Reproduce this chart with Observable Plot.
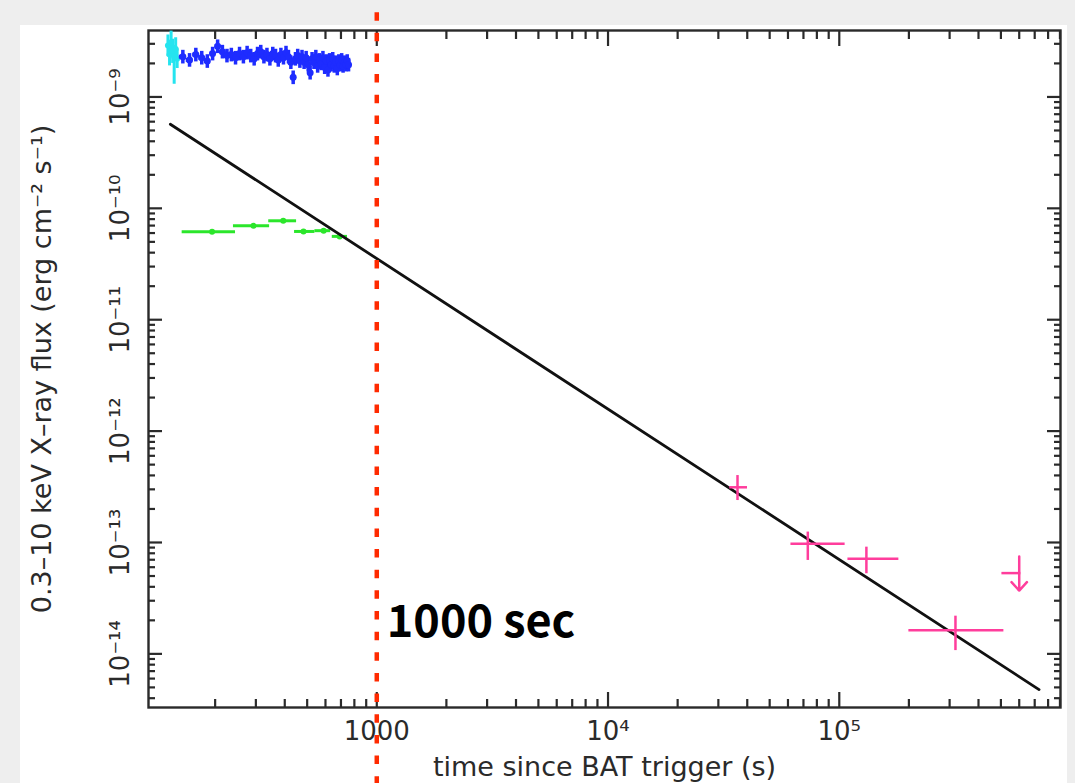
<!DOCTYPE html>
<html><head><meta charset="utf-8">
<script src="https://cdn.jsdelivr.net/npm/d3@7"></script>
<script src="https://cdn.jsdelivr.net/npm/@observablehq/plot@0.6"></script>
<style>
html,body{margin:0;padding:0;background:#eeeeee;width:1075px;height:783px;overflow:hidden;}
#panel{position:absolute;left:20px;top:25px;width:1047px;height:758px;background:#ffffff;}
#chart{position:absolute;left:0;top:0;}
</style></head><body><div id="panel"></div><div id="chart"></div>
<script>
// ---- axes / ticks ----
const xDomain = [103, 9.05e5];
const yDomain = [3.3e-15, 3.95e-9];
const xMajor = [1000, 1e4, 1e5];
const xMajorLabels = ["1000", "10⁴", "10⁵"];
const yMajor = [1e-14, 1e-13, 1e-12, 1e-11, 1e-10, 1e-9];
const yMajorLabels = ["10⁻¹⁴", "10⁻¹³", "10⁻¹²", "10⁻¹¹", "10⁻¹⁰", "10⁻⁹"];
const xTitle = "time since BAT trigger (s)";
const yTitle = "0.3–10 keV X–ray flux (erg cm⁻² s⁻¹)";
const markerLabel = "1000 sec";
const markerTime = 1000;

// ---- BAT (cyan) ----
const batT = [125, 127, 129, 131, 133, 135, 137];
const batF = [2.9e-9, 2.4e-9, 3.1e-9, 2.6e-9, 2.3e-9, 2.7e-9, 2.2e-9];
const batLo = [2.3e-9, 1.9e-9, 2.4e-9, 2.0e-9, 1.3e-9, 2.1e-9, 1.8e-9];
const batHi = [3.6e-9, 3.0e-9, 3.9e-9, 3.3e-9, 2.9e-9, 3.4e-9, 2.7e-9];

// ---- XRT WT (blue) ----
const wtT = [145,155,165,175,185,195,205,215,225,235,245,255,265,275,285,295,305,315,325,335,345,355,365,375,385,395,405,415,425,435,445,455,465,475,485,495,505,515,525,535,545,555,565,575,585,595,605,615,625,635,645,655,665,675,685,695,705,715,725,735,745,755];
const wtF = [2.30,2.15,2.40,2.25,2.10,2.45,2.85,2.55,2.35,2.40,2.25,2.45,2.30,2.50,2.35,2.20,2.45,2.55,2.30,2.40,2.20,2.45,2.35,2.15,2.40,2.25,2.50,2.30,2.05,1.50,2.20,2.35,2.10,2.30,2.05,2.25,1.95,1.65,2.20,2.05,2.30,1.90,2.15,2.00,2.25,1.85,2.10,1.75,2.15,1.95,2.20,1.90,2.05,1.80,2.10,1.95,2.15,1.90,2.05,1.95,2.10,1.95].map(v => v * 1e-9);
const wtHalfBin = 5;
const wtRelErr = 0.14;

// ---- XRT PC early (green) ----
const pcT = [194, 293, 394, 482, 589, 691];
const pcTlo = [144, 240, 341, 441, 540, 642];
const pcThi = [245, 344, 450, 540, 632, 747];
const pcF = [6.15e-11, 6.96e-11, 7.73e-11, 6.2e-11, 6.3e-11, 5.6e-11];
const pcRelErr = 0.03;

// ---- late (pink) ----
const lateT = [3.63e4, 7.31e4, 1.31e5, 3.18e5];
const lateTlo = [3.36e4, 6.18e4, 1.09e5, 2.0e5];
const lateThi = [4.01e4, 1.06e5, 1.81e5, 5.15e5];
const lateF = [3.13e-13, 9.73e-14, 7.14e-14, 1.63e-14];
const lateFlo = [2.38e-13, 6.9e-14, 5.24e-14, 1.07e-14];
const lateFhi = [3.99e-13, 1.24e-13, 9.08e-14, 2.18e-14];

// ---- upper limit ----
const ulT = 6.0e5, ulTlo = 5.05e5, ulThi = 6.1e5;
const ulF = 5.31e-14, ulTop = 7.5e-14, ulTip = 3.7e-14;

// ---- model ----
const modelT = [128, 7.31e5];
const modelF = [5.69e-10, 4.78e-15];

// ---- red marker extent ----
const markerY = [5.71e-9, 6.86e-16];

// build tables
const bat = batT.map((t, i) => ({t, f: batF[i], lo: batLo[i], hi: batHi[i], t0: t - 1.5, t1: t + 1.5}));
const wt = wtT.map((t, i) => ({t, f: wtF[i], lo: wtF[i] * (1 - wtRelErr), hi: wtF[i] * (1 + wtRelErr), t0: t - wtHalfBin, t1: t + wtHalfBin}));
const pc = pcT.map((t, i) => ({t, f: pcF[i], lo: pcF[i] * (1 - pcRelErr), hi: pcF[i] * (1 + pcRelErr), t0: pcTlo[i], t1: pcThi[i]}));
const late = lateT.map((t, i) => ({t, f: lateF[i], lo: lateFlo[i], hi: lateFhi[i], t0: lateTlo[i], t1: lateThi[i]}));
const model = modelT.map((t, i) => ({t, f: modelF[i]}));

// minor tick positions (2..9 per decade)
const xMinor = [], yMinor = [];
for (let e = 2; e <= 5; e++) for (let m = 2; m <= 9; m++) { const v = m * 10 ** e; if (v > xDomain[0] && v < xDomain[1]) xMinor.push(v); }
for (let e = -15; e <= -9; e++) for (let m = 2; m <= 9; m++) { const v = m * 10 ** e; if (v > yDomain[0] && v < yDomain[1]) yMinor.push(v); }

const axisColor = "#2a2a2a";
const blank = () => "";
const cyan = "#25e4ef", blue = "#1e2cff", green = "#2be62b", pink = "#ff3d9c", red = "#ff2a00";

const chart = Plot.plot({
  width: 1075, height: 783,
  marginLeft: 148, marginRight: 15, marginTop: 30, marginBottom: 76,
  style: {background: "transparent", fontFamily: "DejaVu Sans", color: axisColor},
  x: {type: "log", domain: xDomain},
  y: {type: "log", domain: yDomain},
  marks: [
    // ticks (inward, mirrored)
    Plot.axisX(xMajor, {anchor: "bottom", tickSize: -15, tickFormat: blank, label: null, stroke: axisColor, strokeWidth: 2.2}),
    Plot.axisX(xMinor, {anchor: "bottom", tickSize: -8, tickFormat: blank, label: null, stroke: axisColor, strokeWidth: 2.2}),
    Plot.axisX(xMajor, {anchor: "top", tickSize: -15, tickFormat: blank, label: null, stroke: axisColor, strokeWidth: 2.2}),
    Plot.axisX(xMinor, {anchor: "top", tickSize: -8, tickFormat: blank, label: null, stroke: axisColor, strokeWidth: 2.2}),
    Plot.axisY(yMajor, {anchor: "left", tickSize: -14, tickFormat: blank, label: null, stroke: axisColor, strokeWidth: 2.2}),
    Plot.axisY(yMinor, {anchor: "left", tickSize: -7, tickFormat: blank, label: null, stroke: axisColor, strokeWidth: 2.2}),
    Plot.axisY(yMajor, {anchor: "right", tickSize: -14, tickFormat: blank, label: null, stroke: axisColor, strokeWidth: 2.2}),
    Plot.axisY(yMinor, {anchor: "right", tickSize: -7, tickFormat: blank, label: null, stroke: axisColor, strokeWidth: 2.2}),
    Plot.frame({stroke: axisColor, strokeWidth: 2.4}),

    // tick labels
    Plot.text(xMajor, {x: d => d, text: (d, i) => xMajorLabels[i], frameAnchor: "bottom", lineAnchor: "top", dy: 14, fontSize: 26, fill: axisColor}),
    Plot.text(yMajor, {y: d => d, text: (d, i) => yMajorLabels[i], frameAnchor: "left", dx: -20, rotate: -90, textAnchor: "middle", lineAnchor: "bottom", fontSize: 26, fill: axisColor}),
    Plot.text([xTitle], {text: d => d, frameAnchor: "bottom", dy: 60, lineAnchor: "middle", fontSize: 27, fill: axisColor}),
    Plot.text([yTitle], {text: d => d, frameAnchor: "left", dx: -106, rotate: -90, textAnchor: "middle", lineAnchor: "middle", fontSize: 27, fill: axisColor}),

    // BAT cyan
    Plot.ruleX(bat, {x: "t", y1: "lo", y2: "hi", stroke: cyan, strokeWidth: 3}),
    Plot.ruleY(bat, {y: "f", x1: "t0", x2: "t1", stroke: cyan, strokeWidth: 3}),
    Plot.dot(bat, {x: "t", y: "f", r: 3, fill: cyan}),

    // WT blue
    Plot.ruleX(wt, {x: "t", y1: "lo", y2: "hi", stroke: blue, strokeWidth: 3.5}),
    Plot.ruleY(wt, {y: "f", x1: "t0", x2: "t1", stroke: blue, strokeWidth: 4}),
    Plot.dot(wt, {x: "t", y: "f", r: 3.5, fill: blue}),

    // PC green
    Plot.ruleY(pc, {y: "f", x1: "t0", x2: "t1", stroke: green, strokeWidth: 3}),
    Plot.ruleX(pc, {x: "t", y1: "lo", y2: "hi", stroke: green, strokeWidth: 2.5}),
    Plot.dot(pc, {x: "t", y: "f", r: 3, fill: green}),

    // model
    Plot.line(model, {x: "t", y: "f", stroke: "#111", strokeWidth: 2.8}),

    // late pink
    Plot.ruleY(late, {y: "f", x1: "t0", x2: "t1", stroke: pink, strokeWidth: 2.5}),
    Plot.ruleX(late, {x: "t", y1: "lo", y2: "hi", stroke: pink, strokeWidth: 2.5}),
    Plot.ruleY([ulF], {y: d => d, x1: ulTlo, x2: ulThi, stroke: pink, strokeWidth: 2.5}),
    Plot.arrow([0], {x1: ulT, x2: ulT, y1: ulTop, y2: ulTip, stroke: pink, strokeWidth: 2.5, headLength: 12, headAngle: 85}),

    // 1000 s marker
    Plot.ruleX([markerTime], {x: d => d, y1: markerY[0], y2: markerY[1], stroke: red, strokeWidth: 4.5, strokeDasharray: "8.5,12.15"}),
    Plot.text([markerLabel], {x: markerTime, text: d => d, frameAnchor: "bottom", dy: -85, dx: 10, textAnchor: "start", lineAnchor: "middle", fontSize: 45, fontWeight: "bold", fontFamily: "Noto Sans CJK JP", fill: "#000"})
  ]
});
document.getElementById("chart").appendChild(chart);
</script></body></html>
